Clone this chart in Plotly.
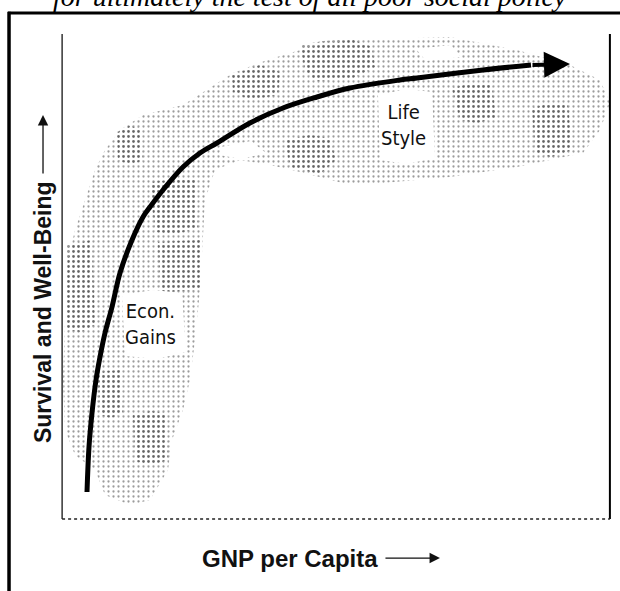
"""Survival and well-being vs GNP per capita: schematic curve with shaded zones."""

import plotly.graph_objects as go

# Curve (arbitrary units: GNP index, well-being index)
CURVE_X = [26, 28, 31, 35, 39, 44, 51, 59, 71, 82, 89, 102, 122, 139, 156,
           189, 222, 256, 289, 339, 356, 422, 470, 509]
CURVE_Y = [27, 72, 106, 139, 162, 186, 212, 246, 279, 302, 312, 329, 352, 366, 376,
           396, 411, 422, 431, 439, 441, 449, 454, 455]

# Shaded (halftone) zone behind the curve
HAZE_X = [59, 82, 122, 172, 206, 249, 289, 389, 456, 509, 539, 549, 539, 522, 456,
          389, 322, 289, 239, 209, 179, 154, 144, 142, 139, 134, 129, 122, 111, 107,
          89, 69, 44, 34, 14, 4, 2, 4, 7, 14, 24, 34, 44, 59]
HAZE_Y = [389, 404, 414, 446, 459, 472, 479, 482, 469, 454, 439, 416, 389, 366, 352,
          342, 336, 334, 347, 354, 359, 349, 319, 279, 229, 179, 139, 109, 79, 49,
          19, 14, 24, 49, 64, 89, 139, 199, 259, 289, 319, 349, 369, 389]

# Denser patches of the halftone
DENSE_PATCHES = [
    ([239, 262, 290, 311, 314, 290, 255, 244], [474, 478, 480, 472, 452, 440, 438, 448]),
    ([171, 199, 219, 217, 189, 172], [444, 454, 447, 424, 419, 427]),
    ([224, 249, 269, 275, 259, 229], [379, 384, 381, 359, 345, 352]),
    ([391, 412, 431, 435, 416, 399], [431, 436, 434, 401, 396, 399]),
    ([471, 490, 507, 511, 490, 474], [411, 416, 414, 369, 362, 366]),
    ([56, 68, 79, 82, 70, 57], [387, 393, 391, 359, 354, 359]),
    ([37, 59, 62, 50, 39], [147, 149, 106, 101, 104]),
    ([72, 90, 105, 107, 90, 74], [104, 108, 106, 59, 54, 58]),
    ([5, 31, 34, 20, 6], [274, 279, 194, 187, 189]),
    ([89, 134, 137, 115, 94], [337, 341, 291, 285, 287]),
    ([97, 139, 139, 99], [277, 279, 229, 227]),
]

# Clear areas around the zone labels and gaps in the halftone
CLEAR_PATCHES = [
    ([61, 92, 121, 125, 96, 64], [224, 229, 226, 167, 160, 163]),
    ([317, 346, 371, 374, 346, 319], [424, 430, 427, 361, 355, 359]),
    ([160, 190, 205, 180, 158], [372, 378, 366, 360, 364]),
    ([355, 390, 400, 365], [470, 474, 462, 458]),
]

ZONE_LABELS = ["Econ.<br>Gains", "Life<br>Style"]
ZONE_X = [89, 342]
ZONE_Y = [195, 394]

X_TITLE = "<b>GNP per Capita</b>"
Y_TITLE = "<b>Survival and Well-Being</b>"
TOP_TEXT = "for ultimately the test of all poor social policy"

TITLE_FONT = "Liberation Sans, Arial, sans-serif"
LABEL_FONT = "Liberation Sans Narrow, DejaVu Sans Condensed, Liberation Sans, sans-serif"

HALFTONE = dict(shape=".", size=5, solidity=0.16, fgcolor="#3a3a3a", bgcolor="rgba(0,0,0,0)")
HALFTONE_DENSE = dict(shape=".", size=5, solidity=0.26, fgcolor="#2a2a2a", bgcolor="rgba(0,0,0,0)")

fig = go.Figure()

fig.add_trace(go.Scatter(
    x=HAZE_X, y=HAZE_Y, mode="lines", fill="toself",
    line=dict(width=0), fillcolor="rgba(0,0,0,0)", fillpattern=HALFTONE,
    hoverinfo="skip", showlegend=False,
))
for px_, py_ in DENSE_PATCHES:
    fig.add_trace(go.Scatter(
        x=px_, y=py_, mode="lines", fill="toself",
        line=dict(width=0), fillcolor="white", fillpattern=HALFTONE_DENSE,
        hoverinfo="skip", showlegend=False,
    ))
for px_, py_ in CLEAR_PATCHES:
    fig.add_trace(go.Scatter(
        x=px_, y=py_, mode="lines", fill="toself",
        line=dict(width=0), fillcolor="white",
        hoverinfo="skip", showlegend=False,
    ))

# main curve (arrowhead added as annotation on the last segment)
fig.add_trace(go.Scatter(
    x=CURVE_X[:-1], y=CURVE_Y[:-1], mode="lines",
    line=dict(color="black", width=5, shape="spline", smoothing=1.0),
    hoverinfo="skip", showlegend=False,
))
fig.add_annotation(
    x=CURVE_X[-1], y=CURVE_Y[-1], ax=CURVE_X[-2], ay=CURVE_Y[-2],
    xref="x", yref="y", axref="x", ayref="y", text="",
    showarrow=True, arrowhead=2, arrowsize=1.3, arrowwidth=4, arrowcolor="black",
)

for label, lx, ly in zip(ZONE_LABELS, ZONE_X, ZONE_Y):
    fig.add_annotation(
        x=lx, y=ly, xref="x", yref="y", text=label, showarrow=False,
        font=dict(family=LABEL_FONT, size=20, color="#111"),
    )

# axis titles with their arrows
fig.add_annotation(
    x=0.4164, y=-0.082, xref="paper", yref="paper", text=X_TITLE, showarrow=False,
    font=dict(family=TITLE_FONT, size=24, color="#111"),
    xanchor="center", yanchor="middle",
)
fig.add_annotation(
    x=0.689, y=-0.0805, xref="paper", yref="paper", text="", showarrow=True,
    ax=-56, ay=0, arrowhead=2, arrowsize=1.6, arrowwidth=1.3, arrowcolor="#111",
)
fig.add_annotation(
    x=-0.0327, y=0.4268, xref="paper", yref="paper", text=Y_TITLE, showarrow=False,
    textangle=-90,
    font=dict(family=TITLE_FONT, size=23, color="#111"),
    xanchor="center", yanchor="middle",
)
fig.add_annotation(
    x=-0.0327, y=0.833, xref="paper", yref="paper", text="", showarrow=True,
    ax=0, ay=60, arrowhead=2, arrowsize=1.6, arrowwidth=1.3, arrowcolor="#111",
)

# cut-off caption line at the very top of the page
fig.add_annotation(
    x=0.4527, y=1.041, xref="paper", yref="paper", text=TOP_TEXT, showarrow=False,
    font=dict(family="Liberation Serif, serif", size=28, color="black", style="italic"),
    xanchor="center", yanchor="bottom",
)

# frame: inner box (no top edge) and outer page rule
fig.add_shape(type="line", xref="paper", yref="paper", x0=0.002, x1=0.002, y0=0, y1=1,
              line=dict(color="black", width=1.2))
fig.add_shape(type="line", xref="paper", yref="paper", x0=0.998, x1=0.998, y0=0, y1=1,
              line=dict(color="black", width=2))
fig.add_shape(type="line", xref="paper", yref="paper", x0=0.002, x1=0.998, y0=0, y1=0,
              line=dict(color="#222", width=1.5, dash="dot"))
fig.add_shape(type="line", xref="paper", yref="paper", x0=-0.0964, x1=1.02, y0=1.0433, y1=1.0433,
              line=dict(color="black", width=3))
fig.add_shape(type="line", xref="paper", yref="paper", x0=-0.0945, x1=-0.0945, y0=1.046, y1=-0.16,
              line=dict(color="black", width=3.5))

fig.update_xaxes(range=[0, 550], visible=False, fixedrange=True)
fig.update_yaxes(range=[0, 485], visible=False, fixedrange=True)
fig.update_layout(
    width=620, height=591,
    margin=dict(l=61, r=9, t=34, b=72),
    plot_bgcolor="white", paper_bgcolor="white",
    showlegend=False,
)

# drop the browser's default body margin so the figure sits at the page corner
fig.write_html(
    "out.html",
    config={"displayModeBar": False},
    post_script="document.body.style.margin = '0';",
)
